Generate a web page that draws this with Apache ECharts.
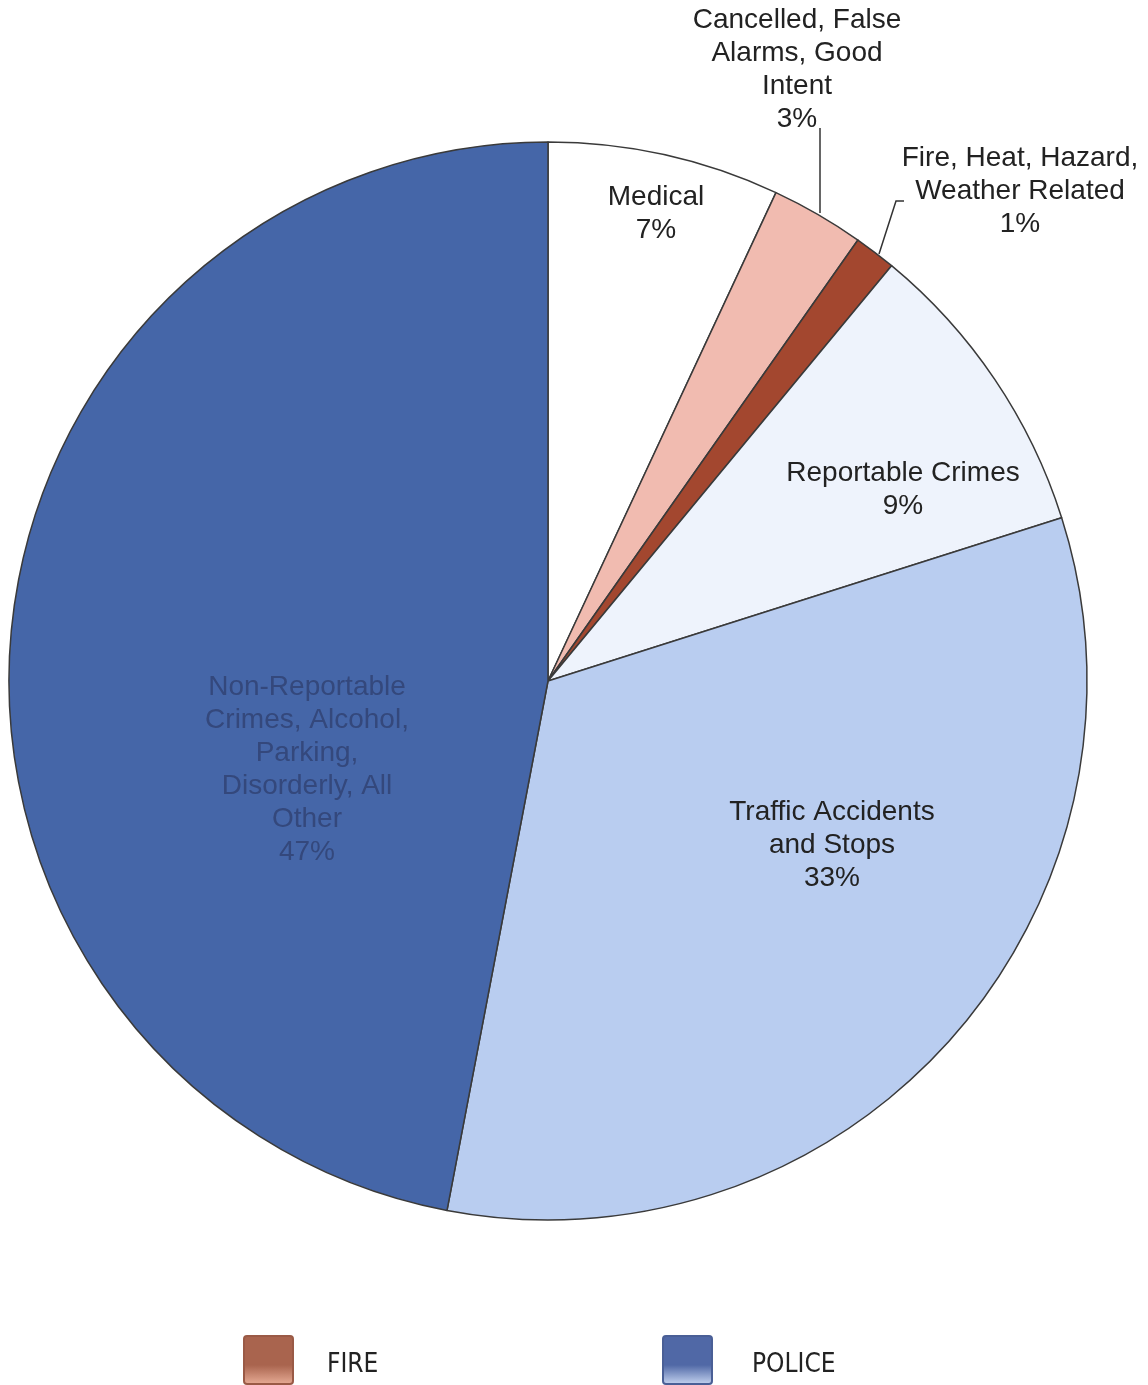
<!DOCTYPE html>
<html>
<head>
<meta charset="utf-8">
<script src="https://cdn.jsdelivr.net/npm/echarts@6/dist/echarts.min.js"></script>
<style>
html,body{margin:0;padding:0;background:#fff;}
#chart{width:1148px;height:1385px;}
</style>
</head>
<body>
<div id="chart"></div>
<script>
const categories = [
  'Medical',
  'Cancelled, False Alarms, Good Intent',
  'Fire, Heat, Hazard, Weather Related',
  'Reportable Crimes',
  'Traffic Accidents and Stops',
  'Non-Reportable Crimes, Alcohol, Parking, Disorderly, All Other'
];
const values = [6.95, 2.8, 1.25, 9.1, 32.9, 47.0];
const labelTexts = [
  'Medical',
  'Cancelled, False\nAlarms, Good\nIntent',
  'Fire, Heat, Hazard,\nWeather Related',
  'Reportable Crimes',
  'Traffic Accidents\nand Stops',
  'Non-Reportable\nCrimes, Alcohol,\nParking,\nDisorderly, All\nOther'
];
const sliceColors = ['#ffffff', '#f1bbb0', '#a3472f', '#eef3fc', '#b9cdf0', '#4566a8'];
const labelColors = ['#222', '#222', '#222', '#222', '#222', '#34487c'];
const legendNames = ['FIRE', 'POLICE'];

// label anchor positions (text block centres) and leader line geometry
const labelPos = [
  [656, 214], [797, 70], [1020, 191], [903, 490], [832, 845], [307, 770]
];
const leaderLines = {
  1: [[820, 213], [820, 128], [820, 128]],
  2: [[879, 254], [896, 201], [904, 201]]
};

const chart = echarts.init(document.getElementById('chart'));
const font = '"Liberation Sans", Arial, sans-serif';

const data = categories.map((c, i) => ({
  name: c,
  value: values[i],
  itemStyle: { color: sliceColors[i] },
  label: { color: labelColors[i] },
  labelLine: { show: !!leaderLines[i] }
}));

function legendItem(x, c1, c2, border) {
  return {
    type: 'rect',
    left: x, top: 1335,
    shape: { width: 49, height: 48, r: 3 },
    style: {
      fill: new echarts.graphic.LinearGradient(0, 0, 0, 1, [
        { offset: 0, color: c1 }, { offset: 0.6, color: c1 }, { offset: 1, color: c2 }
      ]),
      stroke: border, lineWidth: 2
    }
  };
}

chart.setOption({
  backgroundColor: '#ffffff',
  animation: false,
  series: [{
    type: 'pie',
    center: [548, 681],
    radius: 539,
    startAngle: 90,
    clockwise: true,
    avoidLabelOverlap: false,
    data: data,
    itemStyle: { borderColor: '#3a3a3a', borderWidth: 1.5 },
    label: {
      show: true,
      position: 'outside',
      overflow: 'none',
      fontFamily: font,
      fontSize: 28,
      lineHeight: 33,
      align: 'center',
      formatter: p => labelTexts[p.dataIndex] + '\n' + Math.round(p.percent) + '%'
    },
    labelLine: {
      show: true,
      lineStyle: { color: '#333', width: 1.5 },
      length: 20, length2: 10
    },
    labelLayout: function (params) {
      const i = params.dataIndex;
      const r = {
        x: labelPos[i][0], y: labelPos[i][1],
        align: 'center', verticalAlign: 'middle'
      };
      if (leaderLines[i]) r.labelLinePoints = leaderLines[i];
      return r;
    }
  }],
  graphic: [
    legendItem(243, '#a9644e', '#e9ae98', '#9a5a46'),
    { type: 'text', left: 327, top: 1352,
      style: { text: legendNames[0], font: '26px "Liberation Sans Narrow", "DejaVu Sans Condensed", sans-serif', fill: '#222' } },
    legendItem(662, '#5068a6', '#c8d6f2', '#4a5f96'),
    { type: 'text', left: 752, top: 1352,
      style: { text: legendNames[1], font: '26px "Liberation Sans Narrow", "DejaVu Sans Condensed", sans-serif', fill: '#222' } }
  ]
});
</script>
</body>
</html>
